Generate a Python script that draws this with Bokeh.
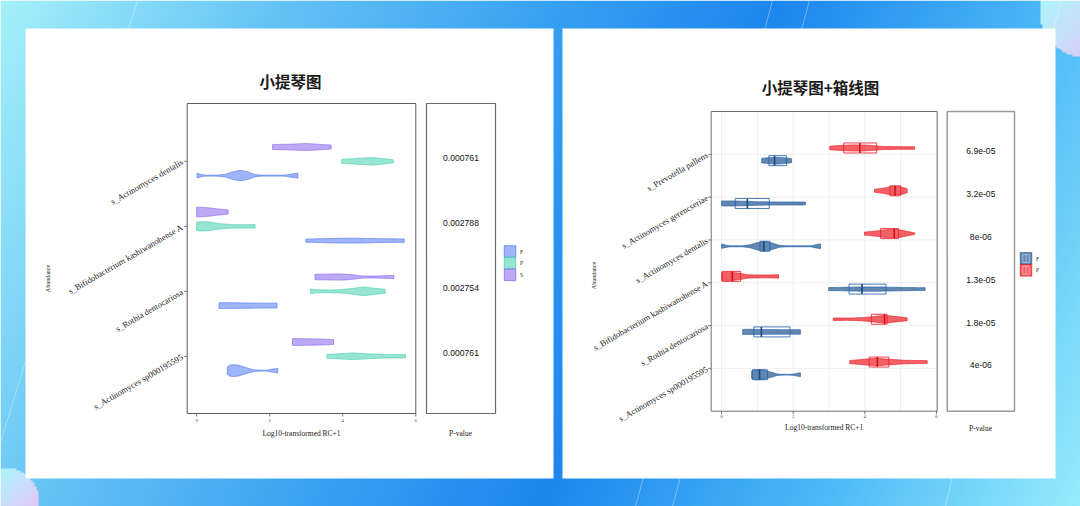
import numpy as np
from bokeh.plotting import figure
from bokeh.models import Range1d
from bokeh.embed import file_html
from bokeh.resources import INLINE
from bokeh.core.properties import value

# ======================= DATA =======================
X_TICKS = [0, 2, 4, 6]
X_LABEL = "Log10-transformed RC+1"
Y_LABEL = "Abundance"
P_LABEL = "P-value"

# ---------- left chart: violin plot ----------
L_TITLE = "小提琴图"
L_CATEGORIES = ["s_Actinomyces dentalis", "s_Bifidobacterium kashiwanohense A",
                "s_Rothia dentocariosa", "s_Actinomyces sp000195595"]      # top -> bottom
L_GROUPS = ["F", "P", "S"]
L_PVALUES = ["0.000761", "0.002788", "0.002754", "0.000761"]

# violin outlines: (log10 value, relative density)
L_DENTALIS_F = [(0.01, .42), (0.08, .25), (0.2, .08), (0.55, .08), (0.78, .2), (0.97, .6), (1.2, .9),
                (1.42, .6), (1.6, .15), (1.8, .08), (2.42, .08), (2.58, .25), (2.77, .42)]
L_DENTALIS_P = [(3.97, .33), (4.3, .45), (4.6, .56), (4.83, .62), (5.1, .45), (5.38, .25)]
L_DENTALIS_S = [(2.08, .42), (2.5, .46), (2.8, .54), (3.0, .58), (3.2, .52), (3.45, .42), (3.68, .33)]
L_BIFIDO_F = [(2.99, .25), (3.3, .3), (3.8, .38), (4.3, .4), (4.8, .34), (5.3, .3), (5.68, .28)]
L_BIFIDO_P = [(0.0, .7), (0.15, .78), (0.35, .72), (0.55, .5), (0.8, .35), (1.0, .28), (1.3, .27), (1.6, .3)]
L_BIFIDO_S = [(0.0, .83), (0.3, .72), (0.6, .5), (0.86, .35)]
L_ROTHIA_F = [(0.61, .45), (0.7, .5), (1.0, .48), (1.5, .42), (2.0, .4), (2.2, .4)]
L_ROTHIA_P = [(3.12, .4), (3.25, .25), (3.6, .22), (4.0, .3), (4.3, .5), (4.56, .72), (4.85, .52), (5.16, .33)]
L_ROTHIA_S = [(3.24, .45), (3.6, .48), (3.94, .52), (4.2, .42), (4.5, .18), (4.8, .15), (5.1, .2), (5.4, .28)]
L_SP_F = [(0.84, .6), (0.9, .92), (1.0, 1.0), (1.15, .9), (1.36, .5), (1.55, .15), (1.69, .08),
          (1.93, .08), (2.02, .2), (2.22, .38)]
L_SP_P = [(3.57, .32), (3.9, .42), (4.29, .55), (4.7, .4), (5.1, .3), (5.72, .28)]
L_SP_S = [(2.62, .55), (2.7, .58), (3.2, .52), (3.75, .42)]

# ---------- right chart: violin + box plot ----------
R_TITLE = "小提琴图+箱线图"
R_CATEGORIES = ["s_Prevotella pallens", "s_Actinomyces gerencseriae", "s_Actinomyces dentalis",
                "s_Bifidobacterium kashiwanohense A", "s_Rothia dentocariosa",
                "s_Actinomyces sp000195595"]                               # top -> bottom
R_GROUPS = ["F", "P"]
R_PVALUES = ["6.9e-05", "3.2e-05", "8e-06", "1.3e-05", "1.8e-05", "4e-06"]

R_F_Q1 = [1.32, 0.38, 1.07, 3.56, 0.90, 0.86]
R_F_MEDIAN = [1.48, 0.72, 1.18, 3.92, 1.11, 1.06]
R_F_Q3 = [1.81, 1.33, 1.35, 4.59, 1.91, 1.28]
R_P_Q1 = [3.41, 4.70, 4.44, 0.02, 4.18, 4.12]
R_P_MEDIAN = [3.86, 4.84, 4.82, 0.30, 4.55, 4.35]
R_P_Q3 = [4.33, 5.00, 4.94, 0.53, 4.62, 4.67]

R_PREVOTELLA_F = [(1.12, .45), (1.3, .6), (1.5, .68), (1.7, .62), (1.95, .42)]
R_PREVOTELLA_P = [(3.02, .35), (3.2, .45), (3.6, .6), (3.9, .62), (4.2, .5), (4.5, .3), (5.0, .27), (5.39, .25)]
R_GERENC_F = [(0.0, .5), (0.3, .5), (0.6, .45), (1.0, .35), (1.5, .3), (2.0, .3), (2.34, .28)]
R_GERENC_P = [(4.27, .3), (4.5, .5), (4.75, .85), (4.95, .85), (5.1, .6), (5.18, .4)]
R_DENTALIS_F = [(0.0, .45), (0.08, .3), (0.2, .1), (0.6, .1), (0.8, .3), (1.0, .75), (1.2, .95), (1.4, .7),
                (1.6, .2), (1.8, .1), (2.5, .1), (2.62, .3), (2.76, .5)]
R_DENTALIS_P = [(3.99, .3), (4.3, .5), (4.6, .8), (4.9, .85), (5.15, .5), (5.39, .15)]
R_BIFIDO_F = [(2.99, .3), (3.4, .35), (3.9, .42), (4.4, .42), (4.9, .35), (5.3, .3), (5.68, .28)]
R_BIFIDO_P = [(0.0, .8), (0.3, .8), (0.5, .65), (0.7, .35), (0.9, .3), (1.3, .28), (1.59, .35)]
R_ROTHIA_F = [(0.59, .5), (0.8, .52), (1.2, .48), (1.7, .45), (2.2, .45)]
R_ROTHIA_P = [(3.12, .25), (3.5, .22), (3.9, .3), (4.2, .5), (4.55, .8), (4.85, .55), (5.18, .3)]
R_SP_F = [(0.84, .7), (0.9, .95), (1.05, 1.0), (1.2, .9), (1.4, .5), (1.55, .15), (1.7, .08),
          (1.95, .08), (2.05, .2), (2.2, .4)]
R_SP_P = [(3.58, .3), (3.9, .5), (4.3, .75), (4.7, .55), (5.1, .35), (5.74, .28)]

L_VIOLINS = {
    L_CATEGORIES[0]: {"F": L_DENTALIS_F, "P": L_DENTALIS_P, "S": L_DENTALIS_S},
    L_CATEGORIES[1]: {"F": L_BIFIDO_F, "P": L_BIFIDO_P, "S": L_BIFIDO_S},
    L_CATEGORIES[2]: {"F": L_ROTHIA_F, "P": L_ROTHIA_P, "S": L_ROTHIA_S},
    L_CATEGORIES[3]: {"F": L_SP_F, "P": L_SP_P, "S": L_SP_S},
}
R_VIOLINS = {
    R_CATEGORIES[0]: {"F": R_PREVOTELLA_F, "P": R_PREVOTELLA_P},
    R_CATEGORIES[1]: {"F": R_GERENC_F, "P": R_GERENC_P},
    R_CATEGORIES[2]: {"F": R_DENTALIS_F, "P": R_DENTALIS_P},
    R_CATEGORIES[3]: {"F": R_BIFIDO_F, "P": R_BIFIDO_P},
    R_CATEGORIES[4]: {"F": R_ROTHIA_F, "P": R_ROTHIA_P},
    R_CATEGORIES[5]: {"F": R_SP_F, "P": R_SP_P},
}
R_BOXES = {"F": (R_F_Q1, R_F_MEDIAN, R_F_Q3), "P": (R_P_Q1, R_P_MEDIAN, R_P_Q3)}

# ======================= STYLE =======================
SERIF = value("Liberation Serif")
SANS = value("Liberation Sans")
CJK = value("Noto Sans CJK SC")

L_FILL = {"F": "#6a8ef6", "P": "#5fd9bd", "S": "#9a7cf0"}
L_LINE = {"F": "#5a7ff2", "P": "#4fd0b0", "S": "#8b6aee"}
R_FILL = {"F": "#1f5591", "P": "#ee1c25"}
R_LINE = {"F": "#2a64a6", "P": "#e8232b"}
R_MED = {"F": "#174a85", "P": "#d0111a"}

PW, PH = 1080, 506
# one canvas in page pixels (y is negated so the axis runs upward)
p = figure(width=PW, height=PH, x_range=Range1d(0, PW), y_range=Range1d(-PH, 0),
           output_backend="svg", toolbar_location=None, min_border=0,
           x_axis_location=None, y_axis_location=None)
p.xgrid.visible = False
p.ygrid.visible = False
p.outline_line_color = None
p.background_fill_color = "white"
p.border_fill_color = "white"

# ---------- background ----------
Hh, Ww = 253, 540
gxp = np.linspace(0, PW, Ww)
gyp = np.linspace(0, PH, Hh)
GX, GY = np.meshgrid(gxp, gyp)
s = ((GX - 780) * 506 + GY * 240) / 560.0
ks = [-705, -450, -200, 0, 250, 490]
kc = np.array([(165, 240, 250), (100, 195, 245), (55, 160, 242), (30, 135, 238),
               (75, 185, 247), (152, 236, 251)], float)
rgb = np.stack([np.interp(s, ks, kc[:, i]) for i in range(3)], axis=-1)
for cx, cy, r, c1, c2 in [(4, 502, 34, (165, 250, 250), (235, 195, 250)),
                          (1086, 10, 46, (172, 248, 250), (225, 200, 250))]:
    m = (GX - cx) ** 2 + (GY - cy) ** 2 <= r * r
    u = np.clip(((GX - cx) + (GY - cy)) / (2.6 * r) + 0.5, 0, 1)[..., None]
    cc = np.array(c1, float) * (1 - u) + np.array(c2, float) * u
    rgb[m] = cc[m]
img = np.zeros((Hh, Ww), dtype=np.uint32)
view = img.view(np.uint8).reshape((Hh, Ww, 4))
view[..., :3] = np.flipud(rgb).astype(np.uint8)
view[..., 3] = 255
p.image_rgba(image=[img], x=0, y=-PH, dw=PW, dh=PH)

p.segment(x0=[137, 772, 809, 1060], y0=[0, 0, 0, 0], x1=[-20, 635, 672, 945], y1=[-506, -506, -506, -506],
          line_color="white", line_alpha=0.35, line_width=1)

# cards
p.quad(left=[25, 562], right=[553, 1055], top=[-28, -28], bottom=[-478, -478],
       fill_color="white", line_color=None)


def smooth(profile, n=90):
    xs = np.array([a for a, b in profile], float)
    ds = np.array([b for a, b in profile], float)
    gx = np.linspace(xs[0], xs[-1], n)
    gd = np.interp(gx, xs, ds)
    k = np.array([1, 2, 3, 2, 1], float)
    k /= k.sum()
    gd = np.convolve(np.pad(gd, 2, mode="edge"), k, mode="valid")
    return gx, gd


def draw_chart(title, title_xy, cats, groups, pvals, violins, dodge, dens_px, fills, lines, falpha,
               xr, yr, box, pbox, tick_gap, label_gap, ylab_xy, plab_xy, leg_xy, leg_step,
               panel_color, pbox_color, pbox_width, boxes=None, gridlines=False, label_gap_x=5):
    x0, x1, ytop, ybot = box
    sub = p.subplot(x_source=Range1d(*xr), y_source=Range1d(*yr),
                    x_target=Range1d(x0, x1), y_target=Range1d(-ybot, -ytop))
    xu = (xr[1] - xr[0]) / (x1 - x0)
    yu = (yr[1] - yr[0]) / (ybot - ytop)
    n = len(cats)
    ypos = [n - i for i in range(n)]

    if gridlines:
        gv = list(range(int(np.ceil(xr[0])), int(np.floor(xr[1])) + 1))
        sub.segment(x0=gv, x1=gv, y0=[yr[0]] * len(gv), y1=[yr[1]] * len(gv),
                    line_color="#ebebeb", line_width=0.8)
        sub.segment(x0=[xr[0]] * n, x1=[xr[1]] * n, y0=ypos, y1=ypos,
                    line_color="#ebebeb", line_width=0.8)

    # panel frame + ticks
    p.quad(left=[x0], right=[x1], top=[-ytop], bottom=[-ybot], fill_color=None,
           line_color=panel_color, line_width=1)
    sub.segment(x0=X_TICKS, x1=X_TICKS, y0=[yr[0]] * len(X_TICKS),
                y1=[yr[0] - 3 * yu] * len(X_TICKS), line_color="#555555", line_width=0.8)
    sub.segment(x0=[xr[0]] * n, x1=[xr[0] - 3 * xu] * n, y0=ypos, y1=ypos,
                line_color="#555555", line_width=0.8)

    # violins
    vx, vy, vf, vl = [], [], [], []
    for i, cat in enumerate(cats):
        for g in groups:
            gx, gd = smooth(violins[cat][g])
            yc = ypos[i] + dodge[g]
            hw = gd * dens_px * yu
            vx.append(np.concatenate([gx, gx[::-1]]))
            vy.append(np.concatenate([yc + hw, (yc - hw)[::-1]]))
            vf.append(fills[g])
            vl.append(lines[g])
    sub.patches(xs=vx, ys=vy, fill_color=vf, line_color=vl, fill_alpha=falpha,
                line_alpha=0.9, line_width=0.8)

    # boxes
    if boxes is not None:
        for g in groups:
            q1, med, q3 = boxes[g]
            yc = [y + dodge[g] for y in ypos]
            top = [y + 5 * yu for y in yc]
            bot = [y - 5 * yu for y in yc]
            sub.quad(left=q1, right=q3, top=top, bottom=bot, fill_color=None,
                     line_color=lines[g], line_width=1, line_alpha=0.85)
            sub.segment(x0=med, x1=med, y0=bot, y1=top, line_color=R_MED[g], line_width=1.6)

    # axis texts
    sub.text(x=X_TICKS, y=[yr[0] - tick_gap * yu] * len(X_TICKS), text=[str(t) for t in X_TICKS],
             text_align="center", text_baseline="middle", text_font=SERIF,
             text_font_size="5px", text_color="#444444")
    sub.text(x=[(xr[0] + xr[1]) / 2], y=[yr[0] - label_gap * yu], text=[X_LABEL],
             text_align="center", text_baseline="middle", text_font=SERIF,
             text_font_size="7.5px", text_color="#222222")
    sub.text(x=[xr[0]] * n, y=ypos, text=cats, angle=np.pi / 6, x_offset=-label_gap_x,
             text_align="right", text_baseline="middle", text_font=SERIF,
             text_font_size="8.6px", text_color="#222222")
    p.text(x=[ylab_xy[0]], y=[-ylab_xy[1]], text=[Y_LABEL], angle=np.pi / 2,
           text_align="center", text_baseline="middle", text_font=SERIF,
           text_font_size="6px", text_color="#222222")

    # p-value panel
    px0, px1 = pbox
    p.quad(left=[px0], right=[px1], top=[-ytop], bottom=[-ybot], fill_color=None,
           line_color=pbox_color, line_width=pbox_width)
    psub = p.subplot(x_source=Range1d(0, 1), y_source=Range1d(*yr),
                     x_target=Range1d(px0, px1), y_target=Range1d(-ybot, -ytop))
    psub.text(x=[0.5] * n, y=[y + 3 * yu for y in ypos], text=pvals, text_align="center",
              text_baseline="middle", text_font=SANS, text_font_size="8.6px", text_color="#111111")
    p.text(x=[plab_xy[0]], y=[-plab_xy[1]], text=[P_LABEL], text_align="center",
           text_baseline="middle", text_font=SERIF, text_font_size="7.5px", text_color="#222222")

    # title
    p.text(x=[title_xy[0]], y=[-title_xy[1]], text=[title], text_align="center",
           text_baseline="middle", text_font=CJK, text_font_style="bold",
           text_font_size="15.5px", text_color="#1a1a1a")

    # legend
    lx, ly = leg_xy
    for j, g in enumerate(groups):
        yy = -(ly + j * leg_step)
        p.rect(x=[lx], y=[yy], width=11.5, height=leg_step, fill_color=fills[g], fill_alpha=falpha,
               line_color=lines[g], line_width=0.8)
        if boxes is not None:
            p.rect(x=[lx], y=[yy], width=6.5, height=leg_step - 3.5, fill_color=None,
                   line_color="white", line_alpha=0.55, line_width=0.8)
            p.segment(x0=[lx], x1=[lx], y0=[yy - (leg_step - 3.5) / 2], y1=[yy + (leg_step - 3.5) / 2],
                      line_color="white", line_alpha=0.55, line_width=0.8)
        p.text(x=[lx + 10], y=[yy], text=[g], text_align="left", text_baseline="middle",
               text_font=SERIF, text_font_size="5.5px", text_color="#222222")


draw_chart(L_TITLE, (290, 80), L_CATEGORIES, L_GROUPS, L_PVALUES, L_VIOLINS,
           {"F": -0.22, "P": 0.0, "S": 0.22}, 6.0, L_FILL, L_LINE, 0.65,
           (-0.26, 6.0), (0.12, 4.89), (186.7, 415.3, 103, 413), (426, 495),
           7, 20, (47, 278), (460, 433), (509.5, 251), 11.65,
           "#5c5c5c", "#6a6a6a", 1.2, label_gap_x=5)

draw_chart(R_TITLE, (820, 86.5), R_CATEGORIES, R_GROUPS, R_PVALUES, R_VIOLINS,
           {"F": -0.148, "P": 0.148}, 5.0, R_FILL, R_LINE, 0.7,
           (-0.29, 6.02), (0.0, 7.0), (710.7, 936.7, 111, 410.7), (946.7, 1014),
           5.3, 16.6, (593, 275), (980, 427.7), (1025.5, 258), 11.7,
           "#707070", "#9a9a9a", 1.5, boxes=R_BOXES, gridlines=True, label_gap_x=4)

open("out.html", "w").write(file_html(p, INLINE))
